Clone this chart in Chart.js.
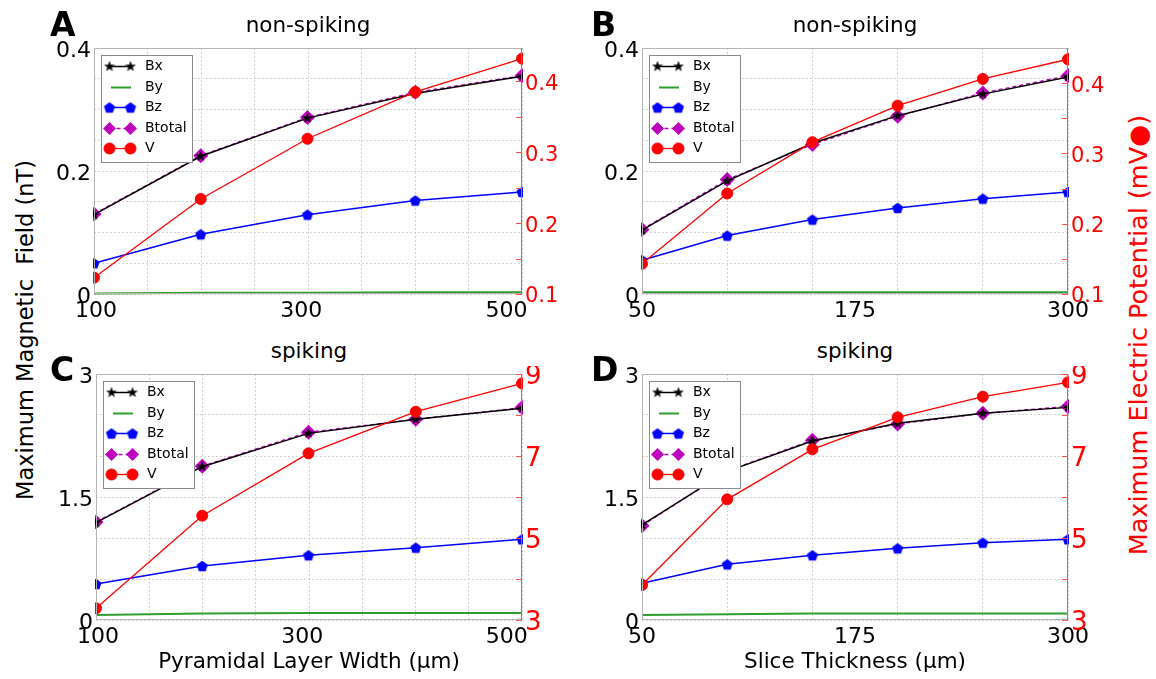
<!DOCTYPE html>
<html>
<head>
<meta charset="utf-8">
<script src="https://cdn.jsdelivr.net/npm/chart.js@4.4.0/dist/chart.umd.min.js"></script>
<style>
  html, body { margin: 0; padding: 0; background: #fff; }
  #fig { position: relative; width: 1156px; height: 679px; overflow: hidden; font-family: "DejaVu Sans", sans-serif; }
  #fig canvas { position: absolute; }
  .t { position: absolute; white-space: pre; line-height: 1; }
</style>
</head>
<body>
<div id="fig"></div>
<script>
// x positions (µm)
const widthUm = [98, 202, 306, 411, 515];
const thickUm = [50, 100, 150, 200, 250, 300];

// A: pyramidal layer width, non-spiking (nT / mV)
const aBx = [0.129, 0.224, 0.286, 0.326, 0.354];
const aBy = [0.001, 0.002, 0.002, 0.003, 0.003];
const aBz = [0.050, 0.097, 0.129, 0.152, 0.166];
const aBt = [0.130, 0.225, 0.287, 0.328, 0.355];
const aV  = [0.123, 0.234, 0.319, 0.385, 0.432];

// B: slice thickness, non-spiking
const bBx = [0.104, 0.184, 0.245, 0.290, 0.325, 0.353];
const bBy = [0.003, 0.003, 0.003, 0.003, 0.003, 0.003];
const bBz = [0.055, 0.095, 0.121, 0.140, 0.155, 0.166];
const bBt = [0.105, 0.186, 0.243, 0.289, 0.327, 0.355];
const bV  = [0.143, 0.243, 0.316, 0.368, 0.406, 0.434];

// C: pyramidal layer width, spiking
const cBx = [1.187, 1.870, 2.276, 2.447, 2.581];
const cBy = [0.060, 0.080, 0.085, 0.085, 0.085];
const cBz = [0.439, 0.659, 0.789, 0.882, 0.984];
const cBt = [1.195, 1.876, 2.290, 2.447, 2.590];
const cV  = [3.285, 5.545, 7.065, 8.080, 8.770];

// D: slice thickness, spiking
const dBx = [1.159, 1.813, 2.183, 2.398, 2.520, 2.593];
const dBy = [0.060, 0.070, 0.080, 0.080, 0.080, 0.080];
const dBz = [0.447, 0.679, 0.789, 0.874, 0.943, 0.984];
const dBt = [1.150, 1.818, 2.192, 2.390, 2.520, 2.605];
const dV  = [3.854, 5.943, 7.163, 7.943, 8.447, 8.797];

// tick labels
const widthTicks = [100, 300, 500];
const thickTicks = [50, 175, 300];
const fieldTicksLow = [0, 0.2, 0.4];
const fieldTicksHigh = [0, 1.5, 3];
const potTicksLow = [0.1, 0.2, 0.3, 0.4];
const potTicksHigh = [3, 5, 7, 9];

Chart.defaults.font.family = '"DejaVu Sans", sans-serif';

// marker images: filled star and pentagon
function markerCanvas(size, draw) {
  const c = document.createElement('canvas');
  c.width = size; c.height = size;
  draw(c.getContext('2d'), size / 2);
  return c;
}
const starImg = markerCanvas(14, (g, m) => {
  g.beginPath();
  for (let i = 0; i < 10; i++) {
    const r = i % 2 ? 2.3 : 5.8;
    const a = -Math.PI / 2 + i * Math.PI / 5;
    g.lineTo(m + r * Math.cos(a), m + r * Math.sin(a));
  }
  g.closePath();
  g.fillStyle = '#000';
  g.fill();
});
const pentImg = markerCanvas(14, (g, m) => {
  g.beginPath();
  for (let i = 0; i < 5; i++) {
    const a = -Math.PI / 2 + i * 2 * Math.PI / 5;
    g.lineTo(m + 5.8 * Math.cos(a), m + 0.5 + 5.8 * Math.sin(a));
  }
  g.closePath();
  g.fillStyle = '#0000ff';
  g.fill();
});

const panels = [
  { letter: 'A', title: 'non-spiking', box: [40, 40, 540, 290], area: [94, 48, 522, 294],
    x: widthUm, xRange: [98, 515], xDiv: 8, xTicks: widthTicks,
    yRange: [0, 0.4], yDiv: 8, yTicks: fieldTicksLow,
    rRange: [0.1, 0.447], rTicks: potTicksLow, rFont: 21,
    s: [aBx, aBy, aBz, aBt, aV] },
  { letter: 'B', title: 'non-spiking', box: [590, 40, 530, 290], area: [642, 48, 1068, 294],
    x: thickUm, xRange: [50, 300], xDiv: 5, xTicks: thickTicks,
    yRange: [0, 0.4], yDiv: 8, yTicks: fieldTicksLow,
    rRange: [0.1, 0.45], rTicks: potTicksLow, rFont: 21,
    s: [bBx, bBy, bBz, bBt, bV] },
  { letter: 'C', title: 'spiking', box: [40, 366, 540, 313], area: [96, 374, 522, 620],
    x: widthUm, xRange: [98, 515], xDiv: 8, xTicks: widthTicks,
    yRange: [0, 3], yDiv: 6, yTicks: fieldTicksHigh,
    rRange: [3, 9], rTicks: potTicksHigh, rFont: 26,
    xTitle: 'Pyramidal Layer Width (µm)',
    s: [cBx, cBy, cBz, cBt, cV] },
  { letter: 'D', title: 'spiking', box: [590, 366, 530, 313], area: [642, 374, 1068, 620],
    x: thickUm, xRange: [50, 300], xDiv: 5, xTicks: thickTicks,
    yRange: [0, 3], yDiv: 6, yTicks: fieldTicksHigh,
    rRange: [3, 9], rTicks: potTicksHigh, rFont: 26,
    xTitle: 'Slice Thickness (µm)',
    s: [dBx, dBy, dBz, dBt, dV] }
];

const fig = document.getElementById('fig');

function addText(txt, o) {
  const d = document.createElement('div');
  d.className = 't';
  d.textContent = txt;
  d.style.fontSize = o.size + 'px';
  if (o.bold) d.style.fontWeight = 'bold';
  d.style.color = o.color || '#000';
  if (o.rotate) {
    d.style.left = o.x + 'px';
    d.style.top = o.y + 'px';
    d.style.transform = 'translate(-50%,-50%) rotate(-90deg)';
  } else {
    d.style.left = o.x + 'px';
    d.style.top = (o.baseline - 0.846 * o.size) + 'px';
    if (o.center) d.style.transform = 'translateX(-50%)';
  }
  fig.appendChild(d);
}

function evenTicks(lo, hi, n) {
  const out = [];
  for (let k = 0; k <= n; k++) out.push({ value: lo + (hi - lo) * k / n });
  return out;
}
function labelFor(list) {
  return v => {
    const t = list.find(t => Math.abs(t - v) < 1e-6);
    return t === undefined ? '' : String(t);
  };
}

// spines, red tick marks on the right axis and the legend box
const framePlugin = {
  id: 'frame',
  afterDatasetsDraw(chart) {
    const { ctx, chartArea: a } = chart;
    const y1 = chart.scales.y1;
    ctx.save();
    ctx.lineWidth = 1;
    ctx.strokeStyle = '#b4b4b4';
    ctx.beginPath();
    ctx.moveTo(a.right, a.top + 0.5); ctx.lineTo(a.left + 0.5, a.top + 0.5);
    ctx.lineTo(a.left + 0.5, a.bottom - 0.5); ctx.lineTo(a.right, a.bottom - 0.5);
    ctx.stroke();
    ctx.strokeStyle = '#ff5050';
    ctx.beginPath();
    ctx.moveTo(a.right - 0.5, a.top); ctx.lineTo(a.right - 0.5, a.bottom);
    y1.ticks.forEach(t => {
      const py = Math.round(y1.getPixelForValue(t.value)) + 0.5;
      ctx.moveTo(a.right - 6, py); ctx.lineTo(a.right, py);
    });
    ctx.stroke();

    // legend
    const lx = a.left + 7, ly = a.top + 7, lw = 91, lh = 107;
    ctx.fillStyle = '#fff';
    ctx.fillRect(lx, ly, lw, lh);
    ctx.strokeStyle = '#8a8a8a';
    ctx.strokeRect(lx + 0.5, ly + 0.5, lw, lh);
    ctx.font = '14px "DejaVu Sans", sans-serif';
    ctx.textBaseline = 'middle';
    const order = ['Bx', 'By', 'Bz', 'Btotal', 'V'];
    order.forEach((name, i) => {
      const ds = chart.data.datasets.find(d => d.label === name);
      const y = Math.round(ly + 11 + i * 20.5) + 0.5;
      const x0 = lx + 8.5, x1 = lx + 29.5;
      ctx.save();
      ctx.strokeStyle = ds.borderColor;
      ctx.lineWidth = ds.borderWidth;
      ctx.setLineDash(ds.borderDash || []);
      ctx.beginPath();
      ctx.moveTo(name === 'By' ? lx + 10 : x0, y);
      ctx.lineTo(name === 'By' ? lx + 30 : x1, y);
      ctx.stroke();
      ctx.restore();
      if (ds.pointRadius > 0) {
        ctx.fillStyle = ds.pointBackgroundColor;
        ctx.strokeStyle = ds.pointBorderColor;
        const opt = { pointStyle: ds.pointStyle, radius: name === 'Btotal' ? 6.5 : ds.pointRadius, rotation: 0, borderWidth: ds.pointBorderWidth };
        Chart.helpers.drawPoint(ctx, opt, x0, y);
        Chart.helpers.drawPoint(ctx, opt, x1, y);
      }
      ctx.fillStyle = '#000';
      ctx.fillText(name, lx + 44, y);
    });
    ctx.restore();
  }
};

panels.forEach(p => {
  const [bx, by, bw, bh] = p.box;
  const [al, at, ar, ab] = p.area;
  const leftW = al - bx, rightW = bx + bw - ar, xH = by + bh - ab;

  const canvas = document.createElement('canvas');
  canvas.width = bw; canvas.height = bh;
  canvas.style.left = bx + 'px';
  canvas.style.top = by + 'px';
  fig.appendChild(canvas);

  const pts = vals => p.x.map((x, i) => ({ x: x, y: vals[i] }));
  const [Bx, By, Bz, Bt, V] = p.s;

  const rMarks = [];
  p.rTicks.forEach((t, i) => {
    rMarks.push({ value: t });
    if (i < p.rTicks.length - 1) rMarks.push({ value: (t + p.rTicks[i + 1]) / 2 });
  });

  const gridCol = '#d2d2d2';
  new Chart(canvas, {
    type: 'line',
    data: {
      datasets: [
        { label: 'V', data: pts(V), yAxisID: 'y1', order: 0, clip: 1,
          borderColor: '#ff0000', borderWidth: 1.3,
          pointStyle: 'circle', pointRadius: 5.5, pointBackgroundColor: '#ff0000', pointBorderColor: '#ff0000', pointBorderWidth: 1 },
        { label: 'Bx', data: pts(Bx), yAxisID: 'y', order: 1, clip: 1,
          borderColor: '#000000', borderWidth: 1.5,
          pointStyle: starImg, pointRadius: 6, pointBackgroundColor: '#000', pointBorderColor: '#000', pointBorderWidth: 0 },
        { label: 'Btotal', data: pts(Bt), yAxisID: 'y', order: 2, clip: 1,
          borderColor: '#bf00bf', borderWidth: 1.3, borderDash: [4, 3],
          pointStyle: 'rectRot', pointRadius: 7.5, pointBackgroundColor: '#bf00bf', pointBorderColor: '#bf00bf', pointBorderWidth: 0 },
        { label: 'Bz', data: pts(Bz), yAxisID: 'y', order: 3, clip: 1,
          borderColor: '#0000ff', borderWidth: 1.5,
          pointStyle: pentImg, pointRadius: 6, pointBackgroundColor: '#0000ff', pointBorderColor: '#0000ff', pointBorderWidth: 0 },
        { label: 'By', data: pts(By), yAxisID: 'y', order: 4, clip: 1,
          borderColor: '#2f9e2f', borderWidth: 2, pointRadius: 0 }
      ]
    },
    options: {
      responsive: false,
      maintainAspectRatio: false,
      devicePixelRatio: 1,
      animation: false,
      events: [],
      layout: { padding: { top: at - by, left: 0, right: 0, bottom: 0 } },
      plugins: { legend: { display: false }, tooltip: { enabled: false } },
      scales: {
        x: {
          type: 'linear', position: 'bottom', min: p.xRange[0], max: p.xRange[1],
          afterBuildTicks: s => { s.ticks = evenTicks(p.xRange[0], p.xRange[1], p.xDiv); },
          ticks: { display: false },
          grid: { color: gridCol, lineWidth: 1, drawTicks: false },
          border: { display: false, dash: [2, 2] },
          afterFit: s => { s.height = 0; s.paddingLeft = 0; s.paddingRight = 0; }
        },
        xl: {
          type: 'linear', position: 'bottom', min: p.xRange[0], max: p.xRange[1],
          afterBuildTicks: s => { s.ticks = p.xTicks.map(v => ({ value: v })); },
          ticks: { autoSkip: false, maxRotation: 0, padding: 4, color: '#000', font: { size: 22 }, callback: labelFor(p.xTicks) },
          grid: { display: false, drawTicks: false },
          border: { display: false },
          afterFit: s => { s.height = xH; s.paddingLeft = 0; s.paddingRight = 0; }
        },
        y: {
          type: 'linear', position: 'left', min: p.yRange[0], max: p.yRange[1],
          afterBuildTicks: s => { s.ticks = evenTicks(p.yRange[0], p.yRange[1], p.yDiv); },
          ticks: { autoSkip: false, padding: 3, labelOffset: 3, color: '#000', font: { size: 22 }, callback: labelFor(p.yTicks) },
          grid: { color: gridCol, lineWidth: 1, drawTicks: false },
          border: { display: false, dash: [2, 2] },
          afterFit: s => { s.width = leftW; s.paddingTop = 0; s.paddingBottom = 0; }
        },
        y1: {
          type: 'linear', position: 'right', min: p.rRange[0], max: p.rRange[1],
          afterBuildTicks: s => { s.ticks = rMarks.map(t => ({ value: t.value })); },
          ticks: { autoSkip: false, padding: 3, labelOffset: 3, color: '#ff0000', font: { size: p.rFont }, callback: labelFor(p.rTicks) },
          grid: { display: false, drawTicks: false },
          border: { display: false },
          afterFit: s => { s.width = rightW; s.paddingTop = 0; s.paddingBottom = 0; }
        }
      }
    },
    plugins: [framePlugin]
  });

  // panel letter, title, x-axis title
  const topRow = at < 100;
  addText(p.letter, { x: bx + (bx < 100 ? 10 : 1), baseline: topRow ? 36 : 381, size: 33, bold: true });
  addText(p.title, { x: (al + ar) / 2, baseline: topRow ? 32 : 358, size: 21.5, center: true });
  if (p.xTitle) addText(p.xTitle, { x: (al + ar) / 2, baseline: 668, size: 21.5, center: true });
});

addText('Maximum Magnetic  Field (nT)', { x: 24.5, y: 330, size: 22.5, rotate: true });
addText('Maximum Electric Potential (mV\u25CF)', { x: 1139, y: 335, size: 25.5, rotate: true, color: '#ff0000' });
</script>
</body>
</html>
